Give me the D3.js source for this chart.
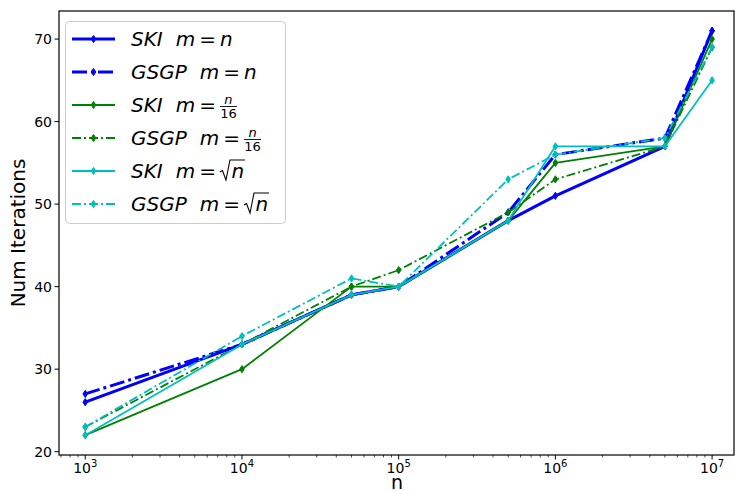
<!DOCTYPE html>
<html>
<head>
<meta charset="utf-8">
<script src="https://cdn.jsdelivr.net/npm/d3@7"></script>
<style>
  html, body { margin: 0; padding: 0; background: #fff; }
  svg { display: block; font-family: "DejaVu Sans", sans-serif; }
</style>
</head>
<body>
<svg id="chart" width="735" height="491"></svg>
<script>
// Problem sizes and iteration counts per method
const sizes = [1e3, 1e4, 5e4, 1e5, 5e5, 1e6, 5e6, 1e7];
const skiFull   = [26, 33, 39, 40, 48, 51, 57, 71];
const gsgpFull  = [27, 33, 39, 40, 49, 56, 58, 71];
const skiN16    = [22, 30, 40, 40, 48, 55, 57, 70];
const gsgpN16   = [23, 33, 40, 42, 49, 53, 57, 69];
const skiSqrt   = [22, 33, 39, 40, 48, 57, 57, 65];
const gsgpSqrt  = [23, 34, 41, 40, 53, 56, 58, 69];
const yTicks = [20, 30, 40, 50, 60, 70];
const xTicks = [1e3, 1e4, 1e5, 1e6, 1e7];

const series = [
  { method: "SKI",  m: "n",    values: skiFull,  color: "#0000ff", width: 3,   dash: null },
  { method: "GSGP", m: "n",    values: gsgpFull, color: "#0000ff", width: 3,   dash: "15,4,3,4" },
  { method: "SKI",  m: "frac", values: skiN16,   color: "#008000", width: 1.8, dash: null },
  { method: "GSGP", m: "frac", values: gsgpN16,  color: "#008000", width: 1.8, dash: "9,3,2,3" },
  { method: "SKI",  m: "sqrt", values: skiSqrt,  color: "#00bfbf", width: 1.8, dash: null },
  { method: "GSGP", m: "sqrt", values: gsgpSqrt, color: "#00bfbf", width: 1.8, dash: "9,3,2,3" }
];

const svg = d3.select("#chart");
const frame = { left: 59, right: 734, top: 11, bottom: 455 };

const x = d3.scaleLog().domain([680, 1.38e7]).range([frame.left, frame.right]);
const y = d3.scaleLinear().domain([19.6, 73.4]).range([frame.bottom, frame.top]);

// Lines and markers
const line = d3.line().x((d, i) => x(sizes[i])).y(d => y(d));
const marker = "M0,-3.6L2.3,0L0,3.6L-2.3,0Z";

series.forEach(s => {
  const g = svg.append("g");
  g.append("path")
    .attr("d", line(s.values))
    .attr("fill", "none")
    .attr("stroke", s.color)
    .attr("stroke-width", s.width)
    .attr("stroke-dasharray", s.dash)
    .attr("stroke-linejoin", "round");
  g.selectAll("path.mk").data(s.values).join("path")
    .attr("class", "mk")
    .attr("d", marker)
    .attr("transform", (d, i) => `translate(${x(sizes[i])},${y(d)})`)
    .attr("fill", s.color)
    .attr("stroke", s.color)
    .attr("stroke-width", 1);
});

// Frame
svg.append("rect")
  .attr("x", frame.left).attr("y", frame.top)
  .attr("width", frame.right - frame.left).attr("height", frame.bottom - frame.top)
  .attr("fill", "none").attr("stroke", "#000").attr("stroke-width", 1.2);

// X axis (log, with minor ticks)
const xAxis = svg.append("g").attr("transform", `translate(0,${frame.bottom})`);
const minor = [];
for (let e = 2; e <= 7; e++) for (let k = 2; k <= 9; k++) {
  const v = k * Math.pow(10, e);
  if (v >= x.domain()[0] && v <= x.domain()[1]) minor.push(v);
}
xAxis.selectAll("line.minor").data(minor).join("line")
  .attr("class", "minor")
  .attr("x1", d => x(d)).attr("x2", d => x(d))
  .attr("y1", 0).attr("y2", 2.5)
  .attr("stroke", "#000").attr("stroke-width", 0.7);
xAxis.selectAll("line.major").data(xTicks).join("line")
  .attr("class", "major")
  .attr("x1", d => x(d)).attr("x2", d => x(d))
  .attr("y1", 0).attr("y2", 4.5)
  .attr("stroke", "#000").attr("stroke-width", 1);
const xl = xAxis.selectAll("text.tl").data(xTicks).join("text")
  .attr("class", "tl")
  .attr("x", d => x(d)).attr("y", 18)
  .attr("text-anchor", "middle")
  .attr("font-size", 14)
  .attr("fill", "#000");
xl.append("tspan").text("10");
xl.append("tspan").attr("dy", -6).attr("font-size", 10)
  .text(d => Math.round(Math.log10(d)));

// Y axis
const yAxis = svg.append("g");
yAxis.selectAll("line").data(yTicks).join("line")
  .attr("x1", frame.left - 4.5).attr("x2", frame.left)
  .attr("y1", d => y(d)).attr("y2", d => y(d))
  .attr("stroke", "#000").attr("stroke-width", 1);
yAxis.selectAll("text").data(yTicks).join("text")
  .attr("x", frame.left - 7).attr("y", d => y(d) + 5)
  .attr("text-anchor", "end")
  .attr("font-size", 14)
  .text(d => d);

// Axis titles
svg.append("text")
  .attr("x", 397).attr("y", 489)
  .attr("text-anchor", "middle").attr("font-size", 19)
  .text("n");
svg.append("text")
  .attr("transform", `translate(25,${(frame.top + frame.bottom) / 2}) rotate(-90)`)
  .attr("text-anchor", "middle").attr("font-size", 20)
  .text("Num Iterations");

// Legend
const legend = svg.append("g");
legend.append("rect")
  .attr("x", 65.5).attr("y", 21.5).attr("width", 220).attr("height", 202)
  .attr("rx", 4).attr("fill", "#fff").attr("fill-opacity", 0.85)
  .attr("stroke", "#cccccc").attr("stroke-width", 1);

const rowY = [39, 72, 105, 138, 171, 204];
series.forEach((s, i) => {
  const yy = rowY[i];
  const lg = legend.append("g");
  lg.append("line")
    .attr("x1", 72).attr("x2", 115).attr("y1", yy).attr("y2", yy)
    .attr("stroke", s.color).attr("stroke-width", s.width)
    .attr("stroke-dasharray", s.dash);
  lg.append("path").attr("d", marker)
    .attr("transform", `translate(93.5,${yy})`)
    .attr("fill", s.color).attr("stroke", s.color);

  const t = lg.append("text")
    .attr("x", 131).attr("y", yy + 7)
    .attr("font-size", 20);
  t.append("tspan").attr("font-style", "italic").text(s.method);
  t.append("tspan").attr("dx", 13).attr("font-style", "italic").text("m");
  t.append("tspan").attr("dx", 4).text("=");
  if (s.m === "n") {
    t.append("tspan").attr("dx", 4).attr("font-style", "italic").text("n");
  }
  const bb = t.node().getBBox();
  const end = bb.x + bb.width;
  if (s.m === "frac") {
    const fx = end + 4;
    lg.append("text").attr("x", fx + 8.5).attr("y", yy - 1)
      .attr("text-anchor", "middle").attr("font-size", 13)
      .attr("font-style", "italic").text("n");
    lg.append("line").attr("x1", fx).attr("x2", fx + 17)
      .attr("y1", yy + 1.5).attr("y2", yy + 1.5)
      .attr("stroke", "#000").attr("stroke-width", 0.9);
    lg.append("text").attr("x", fx + 8.5).attr("y", yy + 13)
      .attr("text-anchor", "middle").attr("font-size", 13).text("16");
  } else if (s.m === "sqrt") {
    const sx = end + 4;
    lg.append("path")
      .attr("d", `M${sx},${yy + 1} L${sx + 2.5},${yy - 0.5} L${sx + 6},${yy + 9} L${sx + 10},${yy - 11} L${sx + 25},${yy - 11}`)
      .attr("fill", "none").attr("stroke", "#000").attr("stroke-width", 1.1)
      .attr("stroke-linejoin", "miter");
    lg.append("text").attr("x", sx + 11.5).attr("y", yy + 7)
      .attr("font-size", 20).attr("font-style", "italic").text("n");
  }
});
</script>
</body>
</html>
